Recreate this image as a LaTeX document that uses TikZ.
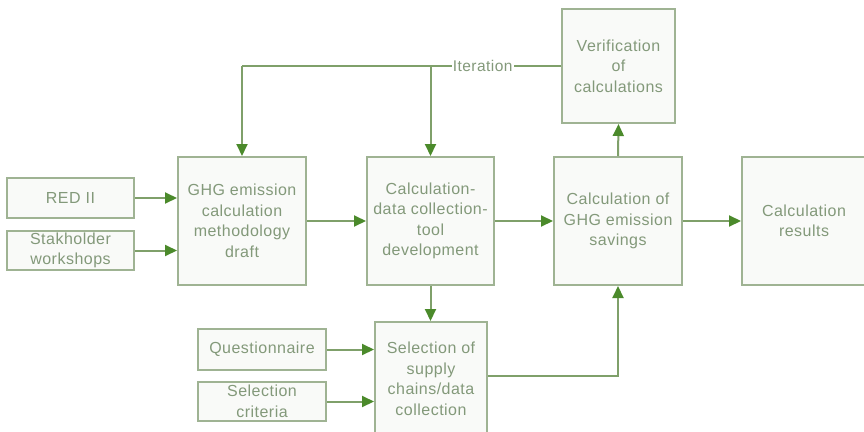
\documentclass[tikz,border=0pt]{standalone}
\usepackage{fontspec}
\setmainfont{Liberation Sans}[LetterSpace=3]
\usetikzlibrary{arrows.meta}

\definecolor{boxline}{HTML}{9FB393}
\definecolor{connline}{HTML}{7FA06A}
\definecolor{tipgreen}{HTML}{4B8A2B}
\definecolor{textgreen}{HTML}{83997A}
\definecolor{boxfill}{HTML}{F9FAF8}

\tikzset{
  box/.style={draw=boxline, fill=boxfill, line width=2pt, rectangle,
    align=center, inner sep=2pt, text=textgreen,
    font=\fontsize{16}{20.5}\selectfont},
  arr/.style={draw=connline, line width=2pt,
    -{Triangle[length=12pt,width=11pt,color=tipgreen]}},
  conn/.style={draw=connline, line width=2pt},
  itlabel/.style={fill=white, inner sep=1pt, text=textgreen,
    font=\fontsize{15.5}{18}\selectfont}
}

\begin{document}
\begin{tikzpicture}[x=1pt, y=-1pt]
  \useasboundingbox (0,0) rectangle (864,431);
  \clip (0,0) rectangle (864,431);

  % input boxes on the left
  \node[box, minimum width=127pt, minimum height=40pt] (red) at (70.5,198) {RED II};
  \node[box, minimum width=127pt, minimum height=39pt] (stake) at (70.5,250.5) {Stakholder\\workshops};

  % main row
  \node[box, minimum width=128pt, minimum height=128pt] (ghg) at (242,221)
    {GHG emission\\calculation\\methodology\\draft};
  \node[box, minimum width=127pt, minimum height=128pt] (tool) at (430.5,221)
    {Calculation-\\data collection-\\tool\\development};
  \node[box, minimum width=128pt, minimum height=128pt] (sav) at (618,221)
    {Calculation of\\GHG emission\\savings};
  \node[box, minimum width=124pt, minimum height=128pt] (res) at (804,221)
    {Calculation\\results};

  % verification on top
  \node[box, minimum width=113pt, minimum height=114pt] (verif) at (618.5,66)
    {Verification\\of\\calculations};

  % lower row
  \node[box, minimum width=128pt, minimum height=41pt] (quest) at (262,349.5) {Questionnaire};
  \node[box, minimum width=128pt, minimum height=39pt] (crit) at (262,401.5) {Selection\\criteria};
  \node[box, minimum width=112pt, minimum height=114pt] (sel) at (431,379)
    {Selection of\\supply\\chains/data\\collection};

  % iteration feedback loop
  \coordinate (itL) at (242,66);
  \coordinate (itM) at (430.5,66);
  \draw[conn] (verif.west) -- node[itlabel, pos=0.6] {Iteration} (itM) -- (itL);
  \draw[arr] (itL) -- (ghg.north);
  \draw[arr] (itM) -- (tool.north);

  % flow connectors
  \draw[arr] (red.east) -- (red.east -| ghg.west);
  \draw[arr] (stake.east) -- (stake.east -| ghg.west);
  \draw[arr] (ghg.east) -- (tool.west);
  \draw[arr] (tool.east) -- (sav.west);
  \draw[arr] (sav.east) -- (res.west);
  \draw[arr] (sav.north) -- (verif.south);
  \draw[arr] (tool.south) -- (tool.south |- sel.north);
  \draw[arr] (quest.east) -- (quest.east -| sel.west);
  \draw[arr] (crit.east) -- (crit.east -| sel.west);
  \draw[arr] ([yshift=3pt]sel.east) -| (sav.south);
\end{tikzpicture}
\end{document}
